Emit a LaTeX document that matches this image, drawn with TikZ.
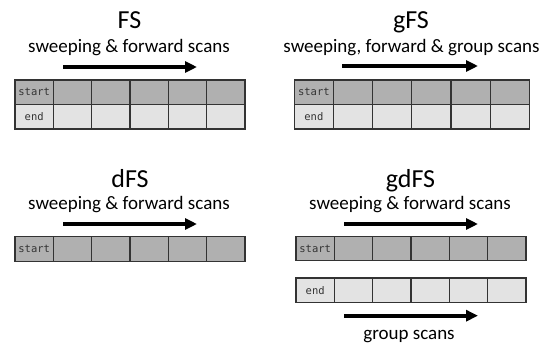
\documentclass[tikz,border=0pt]{standalone}
\usepackage{fontspec}
\setmainfont{Carlito}
\newfontfamily\cellfont{DejaVu Sans Mono}
\usetikzlibrary{arrows.meta}

% one row of six cells; the first one carries the label
\newcommand\cellrow[6]{% #1 name, #2 x, #3 y, #4 cell width, #5 style, #6 label
  \node[#5, minimum width=#4pt] (#1-0) at (#2,#3) {#6};
  \foreach \i in {1,...,5}{
    \node[#5, minimum width=#4pt] (#1-\i) at ({#2+\i*#4},#3) {};
  }
}

\begin{document}
\begin{tikzpicture}[x=1pt,y=-1pt,
  title/.style={font=\fontsize{26}{30}\selectfont, anchor=base, inner sep=0},
  sub/.style={font=\fontsize{19}{22}\selectfont, anchor=base, inner sep=0},
  scanarrow/.style={line width=4pt, -{Triangle[length=12pt,width=11pt]}},
  cell/.style={draw=black!80, line width=1.2pt, minimum height=24.5pt,
    inner sep=0, outer sep=0, anchor=north west,
    font=\cellfont\fontsize{10.5}{12}\selectfont, text=black!80},
  startcell/.style={cell, fill=black!31},
  endcell/.style={cell, fill=black!11}]
\useasboundingbox (0,0) rectangle (547,343);

% FS
\node[title] (fs-title) at (129.5,28.3) {FS};
\node[sub] (fs-sub) at (129,52.5) {sweeping \& forward scans};
\coordinate (fs-a1) at (63,67);
\coordinate (fs-a2) at (197,67);
\draw[scanarrow] (fs-a1) -- (fs-a2);
\cellrow{fs-s}{15}{80}{38.33}{startcell}{start}
\cellrow{fs-e}{15}{104.5}{38.33}{endcell}{end}

% gFS
\node[title] (gfs-title) at (411,28.3) {gFS};
\node[sub] (gfs-sub) at (411.5,52.5) {sweeping, forward \& group scans};
\coordinate (gfs-a1) at (342,66);
\coordinate (gfs-a2) at (478,66);
\draw[scanarrow] (gfs-a1) -- (gfs-a2);
\cellrow{gfs-s}{294.3}{80}{39.17}{startcell}{start}
\cellrow{gfs-e}{294.3}{104.5}{39.17}{endcell}{end}

% dFS
\node[title] (dfs-title) at (130,187) {dFS};
\node[sub] (dfs-sub) at (129,209.5) {sweeping \& forward scans};
\coordinate (dfs-a1) at (63,224);
\coordinate (dfs-a2) at (197,224);
\draw[scanarrow] (dfs-a1) -- (dfs-a2);
\cellrow{dfs-s}{15}{236.7}{38.33}{startcell}{start}

% gdFS
\node[title] (gdfs-title) at (410.5,187.5) {gdFS};
\node[sub] (gdfs-sub) at (410,209.5) {sweeping \& forward scans};
\coordinate (gdfs-a1) at (344,224);
\coordinate (gdfs-a2) at (478,224);
\draw[scanarrow] (gdfs-a1) -- (gdfs-a2);
\cellrow{gdfs-s}{296}{236.3}{38.33}{startcell}{start}
\cellrow{gdfs-e}{296}{278}{38.33}{endcell}{end}
\coordinate (gdfs-b1) at (344,315.7);
\coordinate (gdfs-b2) at (478,315.7);
\draw[scanarrow] (gdfs-b1) -- (gdfs-b2);
\node[sub] (gdfs-group) at (409,339) {group scans};
\end{tikzpicture}
\end{document}
